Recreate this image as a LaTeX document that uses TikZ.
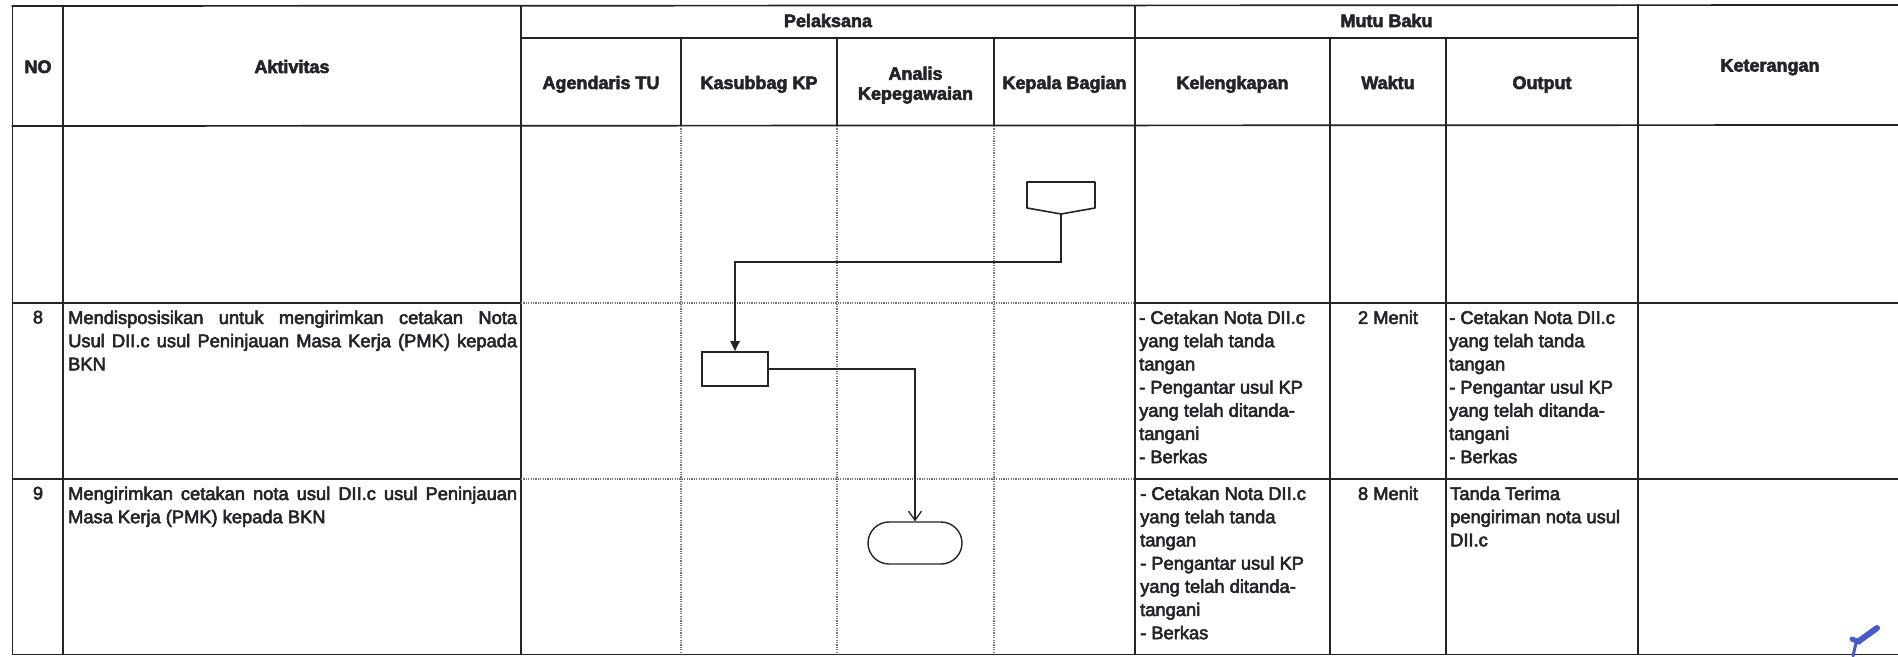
\documentclass[tikz,border=0pt]{standalone}
\usepackage{fontspec}
\setmainfont{Liberation Sans}
\newfontfamily\bodyfont{Liberation Sans}[FakeBold=3]
\newfontfamily\hdrfont{Liberation Sans}[BoldFeatures={FakeBold=3}]
\usetikzlibrary{arrows.meta,shapes.misc,calc}
\definecolor{ink}{RGB}{35,35,40}
\definecolor{pen}{RGB}{70,90,200}
\begin{document}
\begin{tikzpicture}[x=1pt,y=-1pt,
  gridline/.style={line width=1.7pt, draw=ink, line cap=rect},
  laneline/.style={line width=1.3pt, draw=black!55, dash pattern=on 1.2pt off 1.2pt},
  hdr/.style={font=\hdrfont\fontsize{18}{20}\selectfont\bfseries, text=ink, inner sep=0pt, anchor=base},
  hdrtwo/.style={font=\hdrfont\fontsize{18}{20}\selectfont\bfseries, text=ink, inner sep=0pt, anchor=north, align=center},
  body/.style={font=\bodyfont\fontsize{18.3}{23.2}\selectfont, text=ink, inner sep=0pt, align=left, anchor=north west},
  bodyc/.style={font=\bodyfont\fontsize{18.3}{23.2}\selectfont, text=ink, inner sep=0pt, anchor=north},
  flowbox/.style={draw=ink, line width=1.6pt},
  conn/.style={draw=ink, line width=1.8pt},
  connthin/.style={draw=ink, line width=1.3pt},
]
\fill[white] (0,0) rectangle (1898,656);
\useasboundingbox (0,0) rectangle (1898,656);

% ---------- grid ----------
\draw[gridline] (12.5,6) -- (1898,5);
\draw[gridline] (521,38) -- (1638,38);
\draw[gridline] (12.5,126) -- (1898,125);
\draw[gridline] (12.5,654.5) -- (1898,654.5);
\draw[gridline] (12.5,6) -- (12.5,654.5);
\draw[gridline] (63,6) -- (63,654.5);
\draw[gridline] (521,6) -- (521,654.5);
\draw[gridline] (1135,6) -- (1135,654.5);
\draw[gridline] (1638,5) -- (1638,654.5);
\draw[gridline] (1330,38) -- (1330,654.5);
\draw[gridline] (1446,38) -- (1446,654.5);
\foreach \lx in {681,837,994} {
  \draw[gridline] (\lx,38) -- (\lx,126);
  \draw[laneline] (\lx,126) -- (\lx,654);
}
\foreach \ry in {303,479} {
  \draw[gridline] (12.5,\ry) -- (521,\ry);
  \draw[laneline] (521,\ry) -- (1135,\ry);
  \draw[gridline] (1135,\ry) -- (1898,\ry);
}

% ---------- header texts ----------
\node[hdr] (hno) at (38,73) {NO};
\node[hdr] (hakt) at (292,73) {Aktivitas};
\node[hdr] (hpel) at (828,27) {Pelaksana};
\node[hdr] (hmutu) at (1386.5,27) {Mutu Baku};
\node[hdr] (hket) at (1770,71.5) {Keterangan};
\node[hdr] (hagd) at (601,89) {Agendaris TU};
\node[hdr] (hkas) at (759,89) {Kasubbag KP};
\node[hdrtwo] (hana) at (915.5,66.5) {Analis\\Kepegawaian};
\node[hdr] (hkep) at (1064.5,89) {Kepala Bagian};
\node[hdr] (hkel) at (1232.5,89) {Kelengkapan};
\node[hdr] (hwak) at (1388,89) {Waktu};
\node[hdr] (hout) at (1542,89) {Output};

% ---------- row 8 ----------
\node[bodyc] (no8) at (38,310.5) {8};
\node[body] (akt8) at (68,310.5) {\makebox[449pt][s]{Mendisposisikan untuk mengirimkan cetakan Nota}\\\makebox[449pt][s]{Usul DII.c usul Peninjauan Masa Kerja (PMK) kepada}\\BKN};
\node[body] (kel8) at (1139,310.5) {- Cetakan Nota DII.c\\yang telah tanda\\tangan\\- Pengantar usul KP\\yang telah ditanda-\\tangani\\- Berkas};
\node[bodyc] (wak8) at (1388,310.5) {2 Menit};
\node[body] (out8) at (1449,310.5) {- Cetakan Nota DII.c\\yang telah tanda\\tangan\\- Pengantar usul KP\\yang telah ditanda-\\tangani\\- Berkas};

% ---------- row 9 ----------
\node[bodyc] (no9) at (38,486.5) {9};
\node[body] (akt9) at (68,486.5) {\makebox[449pt][s]{Mengirimkan cetakan nota usul DII.c usul Peninjauan}\\Masa Kerja (PMK) kepada BKN};
\node[body] (kel9) at (1140,486.5) {- Cetakan Nota DII.c\\yang telah tanda\\tangan\\- Pengantar usul KP\\yang telah ditanda-\\tangani\\- Berkas};
\node[bodyc] (wak9) at (1388,486.5) {8 Menit};
\node[body] (out9) at (1450,486.5) {Tanda Terima\\pengiriman nota usul\\DII.c};

% ---------- flowchart ----------
\node[inner sep=0pt, outer sep=0pt, minimum width=68pt, minimum height=32pt] (opc) at (1061,198) {};
\draw[flowbox, line join=round] (opc.north west) -- (opc.north east) -- ([yshift=6pt]opc.south east) -- (opc.south) -- ([yshift=6pt]opc.south west) -- cycle;
\node[flowbox, rectangle, inner sep=0pt, minimum width=66pt, minimum height=34pt] (proc8) at (735,369) {};
\node[flowbox, rounded rectangle, inner sep=0pt, minimum width=94pt, minimum height=42pt, line width=1.4pt] (term9) at (915,543) {};
\coordinate (bend1) at (1061,262);
\draw[conn, -{Triangle[length=10pt,width=9pt]}] (opc.south) -- (bend1) -| (proc8.north);
\draw[connthin, -{Straight Barb[length=9pt,width=13pt]}] (proc8.east) -| (term9.north);

% ---------- pen mark ----------
\draw[pen, line width=6pt, line cap=round] (1877,628) -- (1859,641);
\draw[pen, line width=5pt, line cap=round] (1852,639) -- (1859,642);
\draw[pen, line width=3pt, line cap=round] (1856,643) -- (1853,656);
\end{tikzpicture}
\end{document}
